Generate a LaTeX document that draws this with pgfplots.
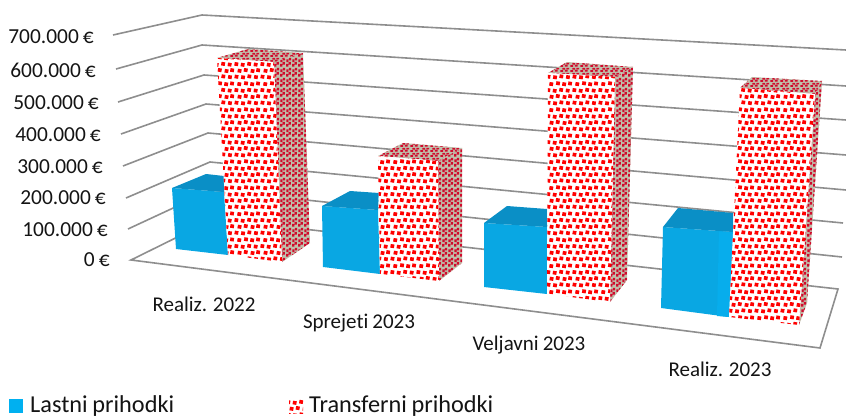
\documentclass[border=0pt]{standalone}
\usepackage{pgfplots}
\pgfplotsset{compat=1.18}
\usepackage{fontspec}
\setmainfont[Ligatures=NoCommon,WordSpace=0.85]{Carlito}
\usetikzlibrary{patterns}
\definecolor{gridc}{HTML}{8E8E8E}
\definecolor{bluef}{HTML}{09A7E3}
\definecolor{bluel}{HTML}{07ADEC}
\definecolor{bluet}{HTML}{0A8FC6}
\definecolor{legb}{HTML}{00B0F0}
\definecolor{sideg}{HTML}{C0C0AC}
\definecolor{sidered}{HTML}{D00A2C}
% one slightly turned square of the texture
\newcommand\fd[2]{%
  \pgfmathsetmacro\ax{#1}\pgfmathsetmacro\ay{#2}%
  \pgfmathsetmacro\bx{#1+3.7}\pgfmathsetmacro\by{#2-0.6}%
  \pgfmathsetmacro\cx{#1+4.3}\pgfmathsetmacro\cy{#2+3.0}%
  \pgfmathsetmacro\dx{#1+0.6}\pgfmathsetmacro\dy{#2+3.6}%
  \pgfpathmoveto{\pgfpoint{\ax pt}{\ay pt}}%
  \pgfpathlineto{\pgfpoint{\bx pt}{\by pt}}%
  \pgfpathlineto{\pgfpoint{\cx pt}{\cy pt}}%
  \pgfpathlineto{\pgfpoint{\dx pt}{\dy pt}}%
  \pgfpathclose}
\pgfdeclarepatternformonly{frontdots}{\pgfqpoint{-2pt}{-2pt}}{\pgfqpoint{26pt}{26pt}}{\pgfqpoint{26pt}{26pt}}{%
  \fd{0.3}{0.8}\fd{6.9}{0.2}\fd{13.2}{1.1}\fd{19.8}{0.4}%
  \fd{3.4}{6.7}\fd{9.6}{7.4}\fd{16.4}{6.5}\fd{22.0}{7.3}%
  \fd{0.2}{13.4}\fd{6.5}{12.7}\fd{13.0}{13.6}\fd{19.5}{12.9}%
  \fd{3.1}{19.4}\fd{9.9}{20.2}\fd{16.0}{19.3}\fd{21.9}{20.0}%
  \pgfusepath{fill}}
\pgfdeclarepatternformonly{sidedots}{\pgfpointorigin}{\pgfqpoint{5.6pt}{10pt}}{\pgfqpoint{5.6pt}{10pt}}{%
  \pgfpathrectangle{\pgfqpoint{0.1pt}{0.3pt}}{\pgfqpoint{2.3pt}{3pt}}
  \pgfpathrectangle{\pgfqpoint{2.9pt}{2.5pt}}{\pgfqpoint{2.3pt}{3pt}}
  \pgfpathrectangle{\pgfqpoint{0.3pt}{5.3pt}}{\pgfqpoint{2.3pt}{3pt}}
  \pgfpathrectangle{\pgfqpoint{3.1pt}{7.2pt}}{\pgfqpoint{2.3pt}{2.8pt}}
  \pgfusepath{fill}}
\pgfdeclarepatternformonly{topdots}{\pgfpointorigin}{\pgfqpoint{10pt}{5pt}}{\pgfqpoint{10pt}{5pt}}{%
  \pgfpathrectangle{\pgfqpoint{0.3pt}{0.2pt}}{\pgfqpoint{3pt}{1.9pt}}
  \pgfpathrectangle{\pgfqpoint{2.5pt}{2.7pt}}{\pgfqpoint{3pt}{1.9pt}}
  \pgfpathrectangle{\pgfqpoint{5.3pt}{0.4pt}}{\pgfqpoint{3pt}{1.9pt}}
  \pgfpathrectangle{\pgfqpoint{7.0pt}{2.9pt}}{\pgfqpoint{3pt}{1.9pt}}
  \pgfusepath{fill}}
\newcommand\face[2]{\addplot[fill=#1,draw=none,forget plot] coordinates {#2};}
\newcommand\frontface[1]{\addplot[fill=white,draw=none,forget plot] coordinates {#1};
  \addplot[pattern=frontdots,pattern color=red,draw=none,forget plot] coordinates {#1};}
\newcommand\sideface[1]{\addplot[fill=sideg,draw=none,forget plot] coordinates {#1};
  \addplot[pattern=sidedots,pattern color=sidered,draw=none,forget plot] coordinates {#1};}
\newcommand\topface[1]{\addplot[fill=sideg,draw=none,forget plot] coordinates {#1};
  \addplot[pattern=topdots,pattern color=sidered,draw=none,forget plot] coordinates {#1};}
\newcommand\gline[1]{\addplot[gridc,line width=1.6pt,forget plot] coordinates {#1};}
\newcommand\tl[3]{\node[anchor=east,inner sep=0pt,font=\fontsize{21.4}{24}\selectfont,text=black!92] at (axis cs:#2,#3) {#1};}
\newcommand\cl[3]{\node[anchor=center,inner sep=0pt,font=\fontsize{21}{24}\selectfont,text=black!92] at (axis cs:#2,#3) {#1};}
\begin{document}
\begin{tikzpicture}
\path[use as bounding box] (0,0) rectangle (846pt,417pt);
\begin{axis}[at={(0,0)},anchor=south west,scale only axis,width=846pt,height=417pt,
  xmin=0,xmax=846,ymin=0,ymax=417,y dir=reverse,hide axis,clip=false]
% grid walls
\gline{(113,35)(202,15)(846,50)}
\gline{(116,69)(202,45)(846,86)}
\gline{(118,102)(204,75)(846,120)}
\gline{(121,134)(206,104)(846,155)}
\gline{(123,166)(208,133)(846,190)}
\gline{(126,198)(210,162)(843,223)}
\gline{(128,229)(212,190)(842,257)}
\addplot[gridc,line width=1.6pt,forget plot] coordinates {(214,219)(838,289)(820,348)(131,260)(214,219)};
% bar 1
\face{bluef}{(172,188)(224,192)(228,255)(176,249)}
\face{bluet}{(172,188)(206,174)(224,176)(224,192)}
\topface{(217,58)(248,49)(303,53)(274,62)}
\sideface{(274,62)(303,53)(310,243)(282,262)}
\frontface{(217,58)(274,62)(282,262)(228,255)}
% bar 2
\face{bluef}{(322,206)(378,210)(380,274)(323,267)}
\face{bluet}{(322,206)(350,191)(379,193)(378,210)}
\topface{(378,156)(403,143)(462,148)(438,161)}
\sideface{(438,161)(462,148)(462,263)(439,281)}
\frontface{(378,156)(438,161)(439,281)(380,274)}
% bar 3
\face{bluef}{(484,223)(547,227)(547,294)(484,287)}
\face{bluet}{(484,223)(507,206)(547,209)(547,227)}
\topface{(548,73)(567,62)(633,67)(615,77)}
\sideface{(615,77)(633,67)(627,280)(610,302)}
\frontface{(548,73)(615,77)(610,302)(547,294)}
% bar 4
\face{bluef}{(663,227)(733,232)(729,317)(661,308)}
\face{bluel}{(719,231)(733,232)(729,317)(717,316)}
\face{bluet}{(663,227)(678,208)(733,213)(733,232)}
\topface{(740,88)(752,77)(822,81)(815,94)}
\sideface{(815,94)(822,81)(807,303)(799,325)}
\frontface{(740,88)(815,94)(799,325)(729,317)}
% legend swatches
\face{legb}{(9,399)(23,399)(23,413)(9,413)}
\addplot[pattern=frontdots,pattern color=red,draw=none,forget plot] coordinates {(289,399)(303,399)(303,413)(289,413)};
% labels
\tl{700.000 €}{94}{37}
\tl{600.000 €}{96}{70}
\tl{500.000 €}{99}{103}
\tl{400.000 €}{101}{135}
\tl{300.000 €}{103}{167}
\tl{200.000 €}{106}{198}
\tl{100.000 €}{108}{230}
\tl{0 €}{110}{260}
\cl{Realiz. 2022}{204}{304}
\cl{Sprejeti 2023}{359}{323}
\cl{Veljavni 2023}{529}{345}
\cl{Realiz. 2023}{720}{369}
\node[anchor=base west,inner sep=0pt,font=\fontsize{24.3}{28}\selectfont,text=black!92] at (axis cs:30,412) {Lastni prihodki};
\node[anchor=base west,inner sep=0pt,font=\fontsize{24.3}{28}\selectfont,text=black!92] at (axis cs:309,412) {Transferni prihodki};
\end{axis}
\end{tikzpicture}
\end{document}
